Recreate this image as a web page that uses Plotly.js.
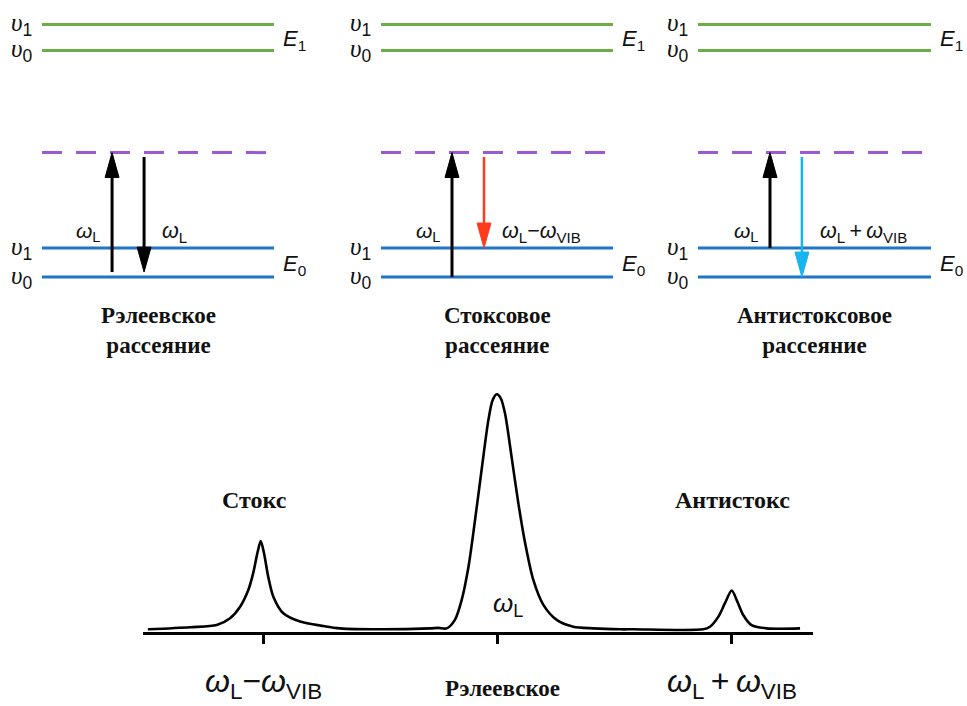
<!DOCTYPE html>
<html><head><meta charset="utf-8">
<script src="https://cdn.plot.ly/plotly-3.0.1.min.js"></script>
<style>html,body{margin:0;padding:0;background:#fff}#chart{width:967px;height:706px}</style>
</head><body><div id="chart"></div>
<script>
// ---------- Energy-level diagrams (energy in arbitrary units, E0 υ0 = 0) ----------
const levelNames  = ['E0 υ0', 'E0 υ1', 'virtual', 'E1 υ0', 'E1 υ1'];
const levelEnergy = [0, 1, 4.29, 7.81, 8.71];
const levelColors = ['#1f75c6', '#1f75c6', '#9b59d6', '#6aae46', '#6aae46'];
const levelDash   = ['solid', 'solid', '20px,14px', 'solid', 'solid'];
const levelTags   = ['<i>υ</i><sub>0</sub>', '<i>υ</i><sub>1</sub>', '', '<i>υ</i><sub>0</sub>', '<i>υ</i><sub>1</sub>'];
const stateTags   = ['<i>E</i><sub>0</sub>', '<i>E</i><sub>1</sub>'];
const panelTitles = ['Рэлеевское<br>рассеяние', 'Стоксовое<br>рассеяние', 'Антистоксовое<br>рассеяние'];

// transitions in each panel
const upX       = [3.02, 3.06, 3.09];
const upFrom    = [0.17, 0, 1];
const upTo      = [4.29, 4.29, 4.29];
const upLabels  = ['<i>ω</i><sub>L</sub>', '<i>ω</i><sub>L</sub>', '<i>ω</i><sub>L</sub>'];
const downX     = [4.40, 4.44, 4.46];
const downFrom  = [4.14, 4.14, 4.14];
const downTo    = [0.17, 1, 0];
const downColors= ['#000000', '#ff3b1c', '#19b3ee'];
const downLabels= ['<i>ω</i><sub>L</sub>', '<i>ω</i><sub>L</sub>−<i>ω</i><sub>VIB</sub>', '<i>ω</i><sub>L</sub>\u2009+\u2009<i>ω</i><sub>VIB</sub>'];

// ---------- Spectrum (shift in units of ω_VIB relative to ω_L; intensity normalised) ----------
const shift = [-1.494,-1.314,-1.200,-1.143,-1.100,-1.065,-1.044,-1.026,-1.012,-0.998,-0.980,-0.958,-0.915,-0.844,-0.744,-0.673,-0.502,
  -0.288,-0.253,-0.217,-0.182,-0.153,-0.124,-0.096,-0.068,-0.039,-0.021,-0.003,0.014,0.032,0.060,0.089,0.118,0.153,0.196,0.253,0.324,0.409,0.524,
  0.580,0.879,0.908,0.944,0.972,1.001,1.025,1.050,1.086,1.150,1.293];
const intensity = [0.000,0.009,0.018,0.047,0.096,0.167,0.239,0.325,0.376,0.325,0.225,0.139,0.068,0.033,0.014,0.004,0.000,
  0.004,0.006,0.004,0.040,0.125,0.266,0.465,0.678,0.890,0.975,1.000,0.983,0.919,0.735,0.537,0.367,0.210,0.104,0.040,0.011,0.004,0.000,
  0.000,0.000,0.011,0.054,0.111,0.165,0.118,0.061,0.018,0.004,0.004];
const tickShifts = [-1, 0, 1];
const tickLabels = ['<i>ω</i><sub>L</sub>−<i>ω</i><sub>VIB</sub>', 'Рэлеевское', '<i>ω</i><sub>L</sub>\u2009+\u2009<i>ω</i><sub>VIB</sub>'];
const peakNames  = ['Стокс', 'Антистокс'];
const peakShift  = [-1.04, 1.006];

// ---------- build ----------
const panelGeom = [ {x0:42, u:23.2, l:0, r:320}, {x0:381, u:23.2, l:320, r:645}, {x0:698, u:23.3, l:645, r:967} ];
const W = 967, H = 706;
const traces = [], ann = [];
const headLen = 0.86, headHW = 0.30;
const sansF = 'Liberation Sans, Arial, sans-serif';
const serifF = 'Liberation Serif, Times New Roman, serif';

panelTitles.forEach((title, p) => {
  const xa = p === 0 ? 'x' : 'x' + (p + 1);
  levelEnergy.forEach((e, i) => {
    traces.push({type:'scatter', mode:'lines', x:[0, 10], y:[e, e], xaxis:xa, yaxis:'y',
      line:{color:levelColors[i], width:3, dash:levelDash[i]}, hoverinfo:'skip', showlegend:false});
    if (levelTags[i]) ann.push({xref:xa, yref:'y', x:-0.88, y:e, text:'<span style="font-family:Liberation Serif">'+levelTags[i].replace('<sub>','</span><sub>'),
      showarrow:false, xanchor:'center', yanchor:'middle', font:{family:sansF, size:25, color:'#111'}});
  });
  ann.push({xref:xa, yref:'y', x:10.3, y:(levelEnergy[0]+levelEnergy[1])/2 - 0.1, text:stateTags[0], showarrow:false, xanchor:'left', yanchor:'middle', font:{family:sansF, size:22, color:'#111'}});
  ann.push({xref:xa, yref:'y', x:10.3, y:(levelEnergy[3]+levelEnergy[4])/2 - 0.1, text:stateTags[1], showarrow:false, xanchor:'left', yanchor:'middle', font:{family:sansF, size:22, color:'#111'}});
  traces.push({type:'scatter', mode:'lines', x:[upX[p], upX[p]], y:[upFrom[p], upTo[p]-headLen], xaxis:xa, yaxis:'y',
    line:{color:'#000', width:3}, hoverinfo:'skip', showlegend:false});
  traces.push({type:'scatter', mode:'lines', fill:'toself', fillcolor:'#000',
    x:[upX[p]-headHW, upX[p]+headHW, upX[p], upX[p]-headHW], y:[upTo[p]-headLen, upTo[p]-headLen, upTo[p], upTo[p]-headLen],
    xaxis:xa, yaxis:'y', line:{color:'#000', width:1}, hoverinfo:'skip', showlegend:false});
  traces.push({type:'scatter', mode:'lines', x:[downX[p], downX[p]], y:[downFrom[p], downTo[p]+headLen], xaxis:xa, yaxis:'y',
    line:{color:downColors[p], width:p===0?3:2.5}, hoverinfo:'skip', showlegend:false});
  traces.push({type:'scatter', mode:'lines', fill:'toself', fillcolor:downColors[p],
    x:[downX[p]-headHW, downX[p]+headHW, downX[p], downX[p]-headHW], y:[downTo[p]+headLen, downTo[p]+headLen, downTo[p], downTo[p]+headLen],
    xaxis:xa, yaxis:'y', line:{color:downColors[p], width:1}, hoverinfo:'skip', showlegend:false});
  ann.push({xref:xa, yref:'y', x:upX[p]-0.4, y:1.55, text:upLabels[p], showarrow:false, xanchor:'right', yanchor:'middle', font:{family:sansF, size:21, color:'#111'}});
  ann.push({xref:xa, yref:'y', x:downX[p]+0.7, y:1.55, text:downLabels[p], showarrow:false, xanchor:'left', yanchor:'middle', font:{family:sansF, size:21.5, color:'#111'}});
  ann.push({xref:xa, yref:'y', x:5.0, y:-1.85, text:'<b>'+title+'</b>', showarrow:false, xanchor:'center', yanchor:'middle',
    font:{family:serifF, size:23, color:'#111'}});
});

traces.push({type:'scatter', mode:'lines', x:shift, y:intensity, xaxis:'x4', yaxis:'y4',
  line:{color:'#000', width:2.6, shape:'spline', smoothing:0.8}, hoverinfo:'skip', showlegend:false});

peakNames.forEach((n, i) => ann.push({xref:'x4', yref:'y4', x:peakShift[i], y:0.55, text:'<b>'+n+'</b>', showarrow:false,
  xanchor:'center', yanchor:'middle', font:{family:serifF, size:24, color:'#111'}}));
ann.push({xref:'x4', yref:'y4', x:0.045, y:0.105, text:'<i>ω</i><sub>L</sub>', showarrow:false, xanchor:'center', yanchor:'middle',
  font:{family:sansF, size:26, color:'#111'}});
tickLabels.forEach((t, i) => ann.push({xref:'x4', yref:'paper', x:tickShifts[i] + (i===1?0.02:0), y:(H-(i===1?688:683))/H, text: i===1 ? '<b>'+t+'</b>' : t,
  showarrow:false, xanchor:'center', yanchor:'middle', borderpad:0,
  font: i===1 ? {family:serifF, size:23, color:'#111'} : {family:sansF, size:32, color:'#111'}}));

const layout = {
  width:W, height:H, margin:{l:0, r:0, t:0, b:0}, paper_bgcolor:'#fff', plot_bgcolor:'rgba(0,0,0,0)', showlegend:false,
  yaxis:{domain:[1-370/H, 1], range:[(277-370)/29, 277/29], visible:false, fixedrange:true},
  xaxis4:{domain:[143/W, 813/W], range:[(143-497.5)/234, (813-497.5)/234], anchor:'y4', showline:true, linecolor:'#000', linewidth:2.5,
    ticks:'outside', ticklen:9, tickwidth:2.2, tickcolor:'#000', tickvals:tickShifts, showticklabels:false, showgrid:false, zeroline:false},
  yaxis4:{domain:[(H-632)/H, (H-380)/H], range:[(629.3-632)/235, (629.3-380)/235], anchor:'x4', visible:false},
  annotations:ann
};
panelGeom.forEach((g, p) => {
  const key = p === 0 ? 'xaxis' : 'xaxis' + (p + 1);
  layout[key] = {domain:[g.l/W, g.r/W], range:[(g.l-g.x0)/g.u, (g.r-g.x0)/g.u], anchor:'y', visible:false};
});

Plotly.newPlot('chart', traces, layout, {staticPlot:true, displayModeBar:false});
</script></body></html>
